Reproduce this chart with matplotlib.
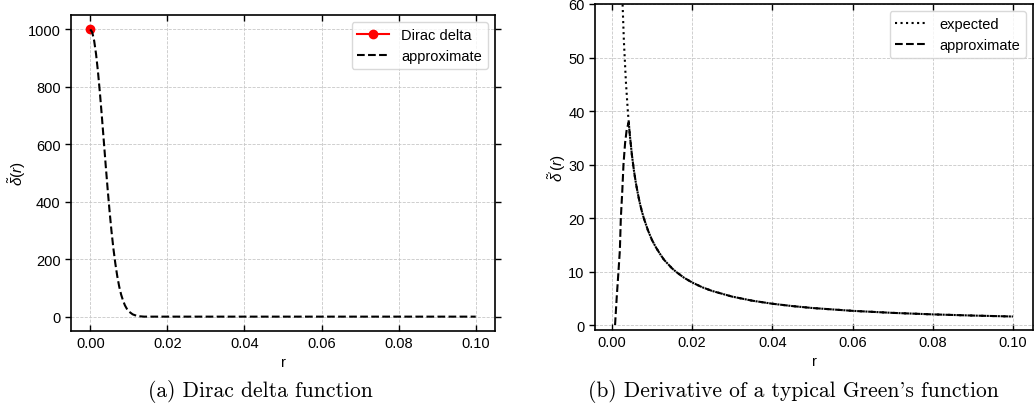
import matplotlib
matplotlib.use("Agg")
import matplotlib.pyplot as plt

# ---- data ----
delta_r = [0.0]
delta_v = [1000.0]

approx_a_r = [0.0, 0.0005, 0.001, 0.0015, 0.002, 0.0025, 0.003, 0.0035, 0.004, 0.0045,
              0.005, 0.0055, 0.006, 0.0065, 0.007, 0.0075, 0.008, 0.0085, 0.009, 0.0095,
              0.010, 0.011, 0.012, 0.013, 0.014, 0.02, 0.04, 0.06, 0.08, 0.10]
approx_a_v = [1000, 990, 961, 914, 852, 779, 698, 613, 527, 445,
              368, 298, 237, 185, 141, 105, 77, 56, 39, 27,
              18, 8, 3, 1, 0, 0, 0, 0, 0, 0]

expected_r = [0.0025, 0.003, 0.0035, 0.004, 0.0045, 0.005, 0.0055, 0.006, 0.0065, 0.007,
              0.0075, 0.008, 0.009, 0.010, 0.011, 0.012, 0.013, 0.014, 0.015, 0.016,
              0.018, 0.020, 0.0225, 0.025, 0.030, 0.035, 0.040, 0.045, 0.050, 0.060,
              0.070, 0.080, 0.090, 0.100]
expected_v = [63.7, 53.1, 45.5, 39.8, 35.4, 31.8, 28.9, 26.5, 24.5, 22.7,
              21.2, 19.9, 17.7, 15.9, 14.5, 13.3, 12.2, 11.4, 10.6, 9.95,
              8.84, 7.96, 7.07, 6.37, 5.31, 4.55, 3.98, 3.54, 3.18, 2.65,
              2.27, 1.99, 1.77, 1.59]

approx_b_r = [0.0008, 0.0012, 0.00165, 0.002, 0.00224, 0.0026, 0.0029, 0.0033, 0.0037, 0.0042,
              0.0045, 0.005, 0.0055, 0.006, 0.0065, 0.007, 0.0075, 0.008, 0.009, 0.010,
              0.011, 0.012, 0.013, 0.014, 0.015, 0.016, 0.018, 0.020, 0.0225, 0.025,
              0.030, 0.035, 0.040, 0.045, 0.050, 0.060, 0.070, 0.080, 0.090, 0.100]
approx_b_v = [0, 5, 10, 14, 20, 25, 30, 34, 36.5, 37.9,
              35.4, 31.8, 28.9, 26.5, 24.5, 22.7, 21.2, 19.9, 17.7, 15.9,
              14.5, 13.3, 12.2, 11.4, 10.6, 9.95, 8.84, 7.96, 7.07, 6.37,
              5.31, 4.55, 3.98, 3.54, 3.18, 2.65, 2.27, 1.99, 1.77, 1.59]

xticks = [0.00, 0.02, 0.04, 0.06, 0.08, 0.10]
yticks_a = [0, 200, 400, 600, 800, 1000]
yticks_b = [0, 10, 20, 30, 40, 50, 60]

caption_a = '(a) Dirac delta function'
caption_b = "(b) Derivative of a typical Green's function"

# ---- style ----
plt.rcParams['font.family'] = ['Liberation Sans', 'DejaVu Sans']
plt.rcParams['mathtext.fontset'] = 'custom'
plt.rcParams['mathtext.rm'] = 'Liberation Sans'
plt.rcParams['mathtext.it'] = 'Liberation Sans:italic'
plt.rcParams['font.size'] = 10

W, H = 1034, 410
fig = plt.figure(figsize=(W / 100, H / 100), dpi=100)

axA = fig.add_axes([71 / W, (H - 332) / H, (495 - 71) / W, (332 - 16) / H])
axB = fig.add_axes([595 / W, (H - 331) / H, (1033 - 595) / W, (331 - 5) / H])

def style(ax):
    ax.grid(True, linestyle='--', linewidth=0.6, color='#c8c8c8')
    ax.set_axisbelow(True)
    ax.tick_params(axis='x', direction='in', top=True, length=4, width=1, labelsize=10.5)
    ax.tick_params(axis='y', direction='out', right=True, length=4, width=1, labelsize=10.5)
    for s in ax.spines.values():
        s.set_linewidth(1.2)
    ax.set_xticks(xticks)
    ax.set_xticklabels([f"{t:.2f}" for t in xticks])

# (a)
axA.plot(delta_r, delta_v, color='red', marker='o', markersize=6, label='Dirac delta')
axA.plot(approx_a_r, approx_a_v, color='black', linestyle='--', linewidth=1.5, label='approximate')
style(axA)
axA.set_xlim(-0.005, 0.105)
axA.set_ylim(-50, 1050)
axA.set_yticks(yticks_a)
axA.set_xlabel('r', fontsize=10.5)
axA.set_ylabel(r'$\tilde{\delta}(r)$', fontsize=11, labelpad=0)
axA.legend(loc='upper right', fontsize=10.5, fancybox=True, framealpha=0.8,
           edgecolor='#d0d0d0', handlelength=2.2)

# (b)
axB.plot(expected_r, expected_v, color='black', linestyle=':', linewidth=1.5, label='expected')
axB.plot(approx_b_r, approx_b_v, color='black', linestyle='--', linewidth=1.5, label='approximate')
style(axB)
axB.set_xlim(-0.0042, 0.105)
axB.set_ylim(-0.93, 60)
axB.set_yticks(yticks_b)
axB.set_xlabel('r', fontsize=10.5)
axB.set_ylabel(r"$\tilde{\delta}^{\prime}(r)$", fontsize=11, labelpad=0)
axB.legend(loc='upper right', fontsize=10.5, fancybox=True, framealpha=0.8,
           edgecolor='#d0d0d0', handlelength=2.2)

# captions
fig.text(260 / W, 1 - 392 / H, caption_a, family=['cmr10', 'DejaVu Serif'],
         fontsize=15.5, ha='center', va='center')
fig.text(793 / W, 1 - 392 / H, caption_b, family=['cmr10', 'DejaVu Serif'],
         fontsize=15.5, ha='center', va='center')

fig.savefig('out.png', dpi=100)
